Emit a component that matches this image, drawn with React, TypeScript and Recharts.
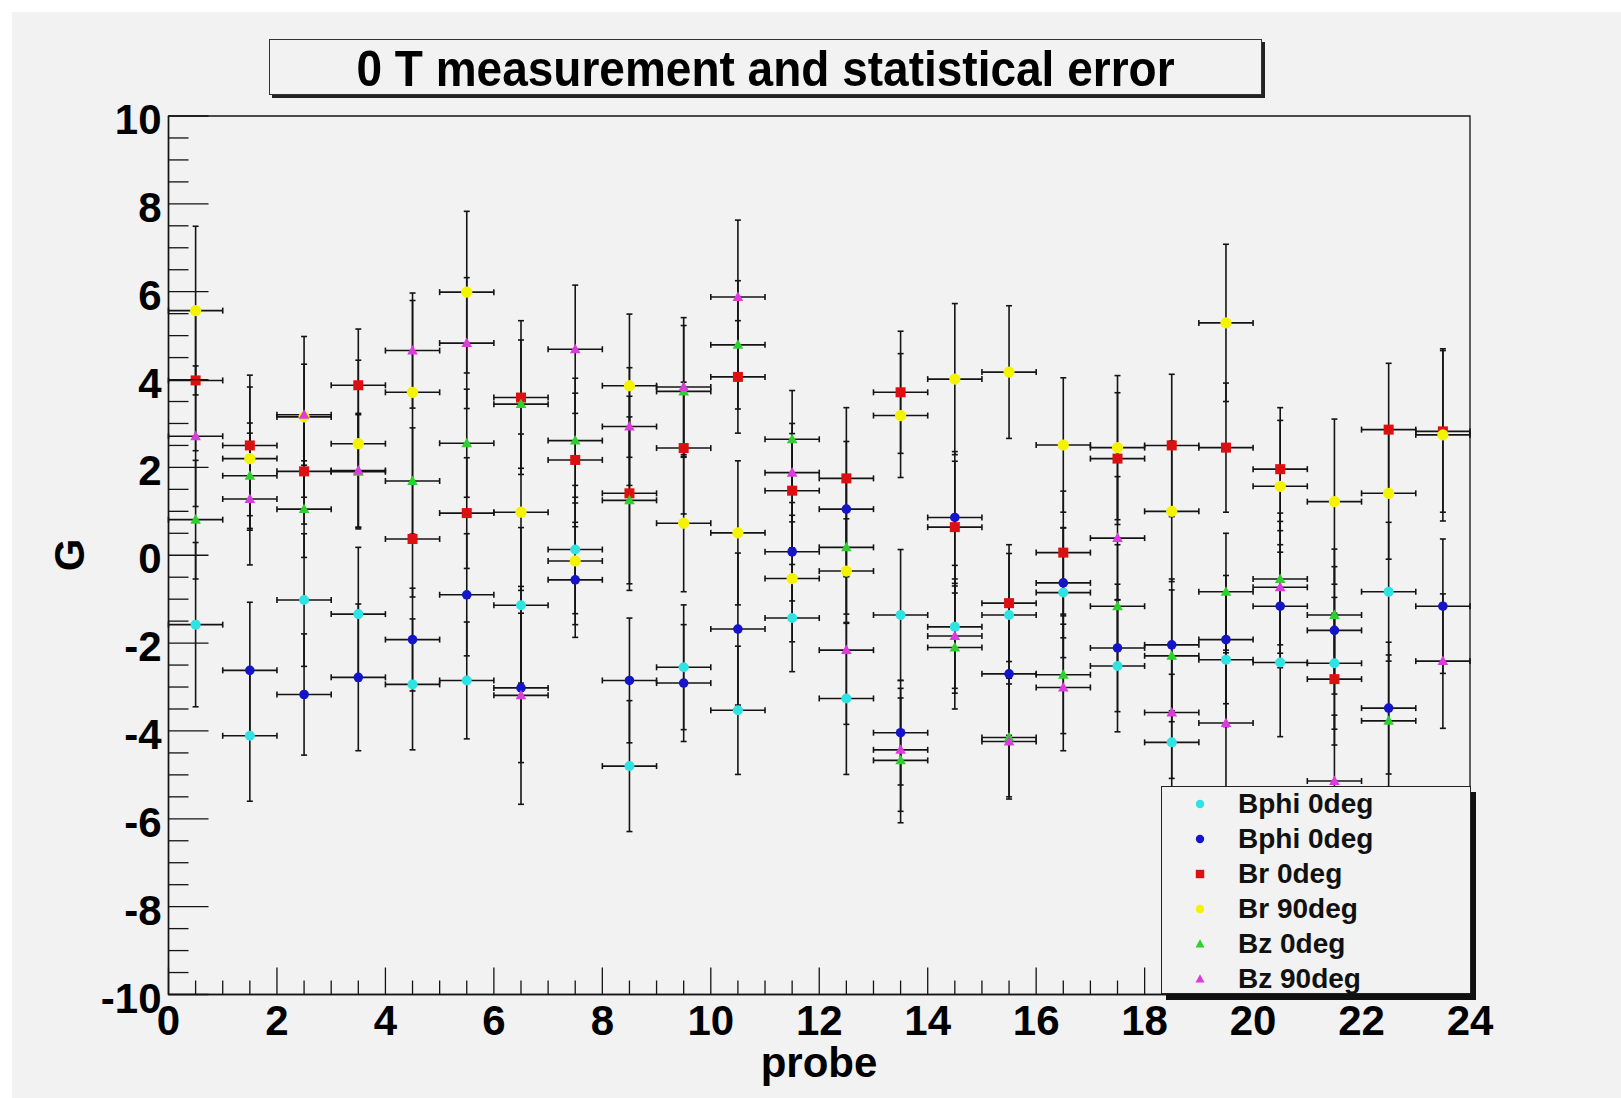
import React from 'react';
import { ScatterChart, Scatter, XAxis, YAxis, ErrorBar, ReferenceArea } from 'recharts';

// ---------- data ----------
const probes = [0.5, 1.5, 2.5, 3.5, 4.5, 5.5, 6.5, 7.5, 8.5, 9.5, 10.5, 11.5, 12.5, 13.5, 14.5, 15.5, 16.5, 17.5, 18.5, 19.5, 20.5, 21.5, 22.5, 23.5];
const probeHalfWidth = 0.5;

const seriesNames = ['Bphi 0deg', 'Bphi 0deg', 'Br 0deg', 'Br 90deg', 'Bz 0deg', 'Bz 90deg'];

const bphiCyan = [-1.58, -4.11, -1.02, -1.34, -2.94, -2.85, -1.14, 0.13, -4.80, -2.55, -3.53, -1.43, -3.26, -1.36, -1.63, -1.36, -0.85, -2.52, -4.26, -2.38, -2.44, -2.46, -0.83, null];
const bphiCyanErr = [1.87, 1.49, 1.51, 1.52, 1.49, 1.33, 1.77, 1.46, 1.49, 1.42, 1.46, 1.22, 1.73, 1.49, 1.40, 1.40, 1.48, 1.50, 1.55, 1.52, 1.69, 1.50, 1.58, null];

const bphiBlue = [null, -2.62, -3.17, -2.78, -1.92, -0.90, -3.02, -0.56, -2.85, -2.91, -1.68, 0.08, 1.05, -4.04, 0.86, -2.70, -0.63, -2.11, -2.04, -1.92, -1.16, -1.71, -3.48, -1.16];
const bphiBlueErr = [null, 1.55, 1.38, 1.67, 1.17, 1.39, 1.70, 1.31, 1.42, 1.33, 1.73, 1.12, 1.54, 1.19, 1.50, 1.40, 1.25, 1.45, 1.50, 1.46, 1.40, 1.45, 1.50, 1.53];

const brRed = [3.98, 2.50, 1.91, 3.87, 0.37, 0.96, 3.59, 2.17, 1.41, 2.44, 4.06, 1.47, 1.75, 3.71, 0.64, -1.09, 0.06, 2.20, 2.50, 2.45, 1.96, -2.82, 2.86, 2.82];
const brRedErr = [1.60, 1.60, 1.20, 1.28, 1.32, 1.26, 1.75, 1.52, 2.21, 1.50, 1.28, 1.30, 1.61, 1.39, 1.50, 1.33, 1.40, 1.50, 1.62, 1.47, 1.40, 1.50, 1.51, 1.84];

const brYellow = [5.57, 2.20, 3.15, 2.54, 3.71, 5.99, 0.98, -0.13, 3.86, 0.73, 0.51, -0.53, -0.36, 3.18, 4.01, 4.17, 2.51, 2.45, 1.00, 5.29, 1.57, 1.22, 1.41, 2.74];
const brYellowErr = [1.92, 1.63, 1.83, 1.90, 2.09, 1.84, 1.78, 1.45, 1.63, 1.56, 1.64, 1.44, 1.19, 1.41, 1.72, 1.51, 1.53, 1.64, 1.60, 1.79, 1.50, 1.88, 1.50, 1.96];

const bzGreen = [0.81, 1.81, 1.05, 1.90, 1.69, 2.55, 3.44, 2.61, 1.25, 3.73, 4.79, 2.64, 0.18, -4.67, -2.10, -4.15, -2.72, -1.16, -2.29, -0.83, -0.54, -1.36, -3.77, null];
const bzGreenErr = [1.35, 1.20, 1.10, 1.30, 1.21, 1.23, 1.46, 1.42, 1.90, 1.50, 1.46, 1.11, 1.52, 1.42, 1.40, 1.35, 1.34, 1.40, 1.50, 1.33, 1.50, 1.50, 1.50, null];

const bzMagenta = [2.71, 1.28, 3.20, 1.93, 4.66, 4.83, -3.19, 4.69, 2.93, 3.83, 5.88, 1.88, -2.16, -4.43, -1.84, -4.24, -3.01, 0.39, -3.58, -3.82, -0.73, -5.14, null, -2.41];
const bzMagentaErr = [1.60, 1.50, 1.15, 1.30, 1.31, 1.49, 2.48, 1.46, 1.34, 1.58, 1.75, 1.12, 1.69, 1.40, 1.30, 1.31, 1.44, 1.40, 1.50, 1.60, 1.50, 1.50, null, 1.53];

const xTicks = [0, 0.5, 1, 1.5, 2, 2.5, 3, 3.5, 4, 4.5, 5, 5.5, 6, 6.5, 7, 7.5, 8, 8.5, 9, 9.5, 10, 10.5, 11, 11.5, 12, 12.5, 13, 13.5, 14, 14.5, 15, 15.5, 16, 16.5, 17, 17.5, 18, 18.5, 19, 19.5, 20, 20.5, 21, 21.5, 22, 22.5, 23, 23.5, 24];
const yTicks = [-10, -9.5, -9, -8.5, -8, -7.5, -7, -6.5, -6, -5.5, -5, -4.5, -4, -3.5, -3, -2.5, -2, -1.5, -1, -0.5, 0, 0.5, 1, 1.5, 2, 2.5, 3, 3.5, 4, 4.5, 5, 5.5, 6, 6.5, 7, 7.5, 8, 8.5, 9, 9.5, 10];
const majorStep = 2;

const titleText = '0 T measurement and statistical error';
const xTitle = 'probe';
const yTitle = 'G';

// ---------- styling ----------
const FONT = '"Liberation Sans", Arial, Helvetica, sans-serif';
const BG = '#f2f2f2';
const INK = '#141414';

type Kind = 'circle' | 'square' | 'triangle';
const seriesDefs = [
  { name: seriesNames[0], values: bphiCyan, errors: bphiCyanErr, color: '#2fe3e3', kind: 'circle' as Kind, size: 5 },
  { name: seriesNames[1], values: bphiBlue, errors: bphiBlueErr, color: '#1414c8', kind: 'circle' as Kind, size: 4.8 },
  { name: seriesNames[2], values: brRed, errors: brRedErr, color: '#dc1010', kind: 'square' as Kind, size: 5 },
  { name: seriesNames[3], values: brYellow, errors: brYellowErr, color: '#f4f400', kind: 'circle' as Kind, size: 5.6 },
  { name: seriesNames[4], values: bzGreen, errors: bzGreenErr, color: '#2ed02e', kind: 'triangle' as Kind, size: 5.3 },
  { name: seriesNames[5], values: bzMagenta, errors: bzMagentaErr, color: '#dc3cdc', kind: 'triangle' as Kind, size: 5.3 },
];

const buildData = (values: (number | null)[], errors: (number | null)[]) =>
  probes
    .map((p, i) => ({ x: p, y: values[i], ex: probeHalfWidth, ey: errors[i] }))
    .filter((d) => d.y !== null && d.y !== undefined);

const drawMarker = (kind: Kind, color: string, s: number, cx: number, cy: number) => {
  if (kind === 'circle') return <circle cx={cx} cy={cy} r={s} fill={color} />;
  if (kind === 'square') return <rect x={cx - s} y={cy - s} width={2 * s} height={2 * s} fill={color} />;
  return <polygon points={`${cx},${cy - s * 1.05} ${cx - s},${cy + s * 0.75} ${cx + s},${cy + s * 0.75}`} fill={color} />;
};

const makeShape = (kind: Kind, color: string, s: number) => (props: any) => {
  const { cx, cy } = props;
  if (cx == null || cy == null) return <g />;
  return drawMarker(kind, color, s, cx, cy);
};

const isMajor = (v: number) => Math.abs(v % majorStep) < 1e-9;

const XTick = (props: any) => {
  const { x, y, payload } = props;
  const v = payload.value;
  const major = isMajor(v);
  return (
    <g>
      <line x1={x} y1={y} x2={x} y2={y - (major ? 27 : 14)} stroke={INK} strokeWidth={1.3} />
      {major && (
        <text x={x} y={y + 40} textAnchor="middle" fontFamily={FONT} fontWeight="bold" fontSize={42} fill="#000">
          {v}
        </text>
      )}
    </g>
  );
};

const YTick = (props: any) => {
  const { x, y, payload } = props;
  const v = payload.value;
  const major = isMajor(v);
  return (
    <g>
      <line x1={x} y1={y} x2={x + (major ? 40 : 20)} y2={y} stroke={INK} strokeWidth={1.3} />
      {major && (
        <text x={x - 7} y={y + 18} textAnchor="end" fontFamily={FONT} fontWeight="bold" fontSize={42} fill="#000">
          {v}
        </text>
      )}
    </g>
  );
};

export default function App() {
  return (
    <div style={{ position: 'absolute', left: 0, top: 0, width: 1621, height: 1098, background: '#ffffff', overflow: 'hidden' }}>
      <div style={{ position: 'absolute', left: 12, top: 12, width: 1609, height: 1086, background: BG }} />

      {/* title box */}
      <div
        style={{
          position: 'absolute',
          left: 269,
          top: 39,
          width: 991,
          height: 54,
          border: '1.5px solid #333',
          boxShadow: '3px 3px 0 0 #222',
          background: BG,
          display: 'flex',
          alignItems: 'center',
          justifyContent: 'center',
          fontFamily: FONT,
          fontWeight: 'bold',
          fontSize: 46,
          color: '#000',
          lineHeight: 1,
        }}
      >
        <span style={{ display: 'inline-block', transform: 'scaleY(1.1)', marginTop: 2 }}>{titleText}</span>
      </div>

      <div style={{ position: 'absolute', left: 0, top: 0 }}>
        <ScatterChart width={1621} height={1098} margin={{ top: 116, right: 151, bottom: 63.5, left: 108.5 }}>
          <ReferenceArea x1={0} x2={24} y1={-10} y2={10} fill="none" stroke={INK} strokeWidth={1.3} ifOverflow="visible" />
          <XAxis
            type="number"
            dataKey="x"
            domain={[0, 24]}
            ticks={xTicks}
            interval={0}
            tickSize={0}
            tickMargin={0}
            tickLine={false}
            axisLine={{ stroke: INK, strokeWidth: 1.5 }}
            height={40}
            tick={<XTick />}
            allowDataOverflow
          />
          <YAxis
            type="number"
            dataKey="y"
            domain={[-10, 10]}
            ticks={yTicks}
            interval={0}
            tickSize={0}
            tickMargin={0}
            tickLine={false}
            axisLine={{ stroke: INK, strokeWidth: 1.5 }}
            width={60}
            tick={<YTick />}
            allowDataOverflow
          />
          {seriesDefs.map((s, i) => (
            <Scatter
              key={i}
              name={s.name}
              data={buildData(s.values, s.errors)}
              isAnimationActive={false}
              shape={makeShape(s.kind, s.color, s.size)}
            >
              <ErrorBar dataKey="ex" direction="x" width={3} stroke={INK} strokeWidth={1.6} isAnimationActive={false} />
              <ErrorBar dataKey="ey" direction="y" width={3} stroke={INK} strokeWidth={1.6} isAnimationActive={false} />
            </Scatter>
          ))}
        </ScatterChart>
      </div>

      {/* axis titles */}
      <div
        style={{
          position: 'absolute',
          left: 70,
          top: 555,
          transform: 'translate(-50%, -50%) rotate(-90deg)',
          fontFamily: FONT,
          fontWeight: 'bold',
          fontSize: 42,
          lineHeight: 1,
          color: '#000',
        }}
      >
        {yTitle}
      </div>
      <div
        style={{
          position: 'absolute',
          left: 819,
          top: 1063,
          transform: 'translate(-50%, -50%)',
          fontFamily: FONT,
          fontWeight: 'bold',
          fontSize: 42,
          lineHeight: 1,
          color: '#000',
        }}
      >
        {xTitle}
      </div>

      {/* legend */}
      <div
        style={{
          position: 'absolute',
          left: 1161,
          top: 786,
          width: 308,
          height: 206,
          border: '1.5px solid #222',
          boxShadow: '5px 6px 0 0 #111',
          background: BG,
          fontFamily: FONT,
          fontWeight: 'bold',
          fontSize: 28,
          color: '#111',
        }}
      >
        {seriesDefs.map((s, i) => (
          <div key={i} style={{ position: 'absolute', left: 0, top: -1 + i * 35, height: 35, width: '100%', display: 'flex', alignItems: 'center' }}>
            <svg width={20} height={20} style={{ position: 'absolute', left: 28 }}>
              {drawMarker(s.kind, s.color, s.kind === 'triangle' ? 4.5 : 4.2, 10, 10)}
            </svg>
            <span style={{ position: 'absolute', left: 76, lineHeight: 1 }}>{s.name}</span>
          </div>
        ))}
      </div>
    </div>
  );
}
